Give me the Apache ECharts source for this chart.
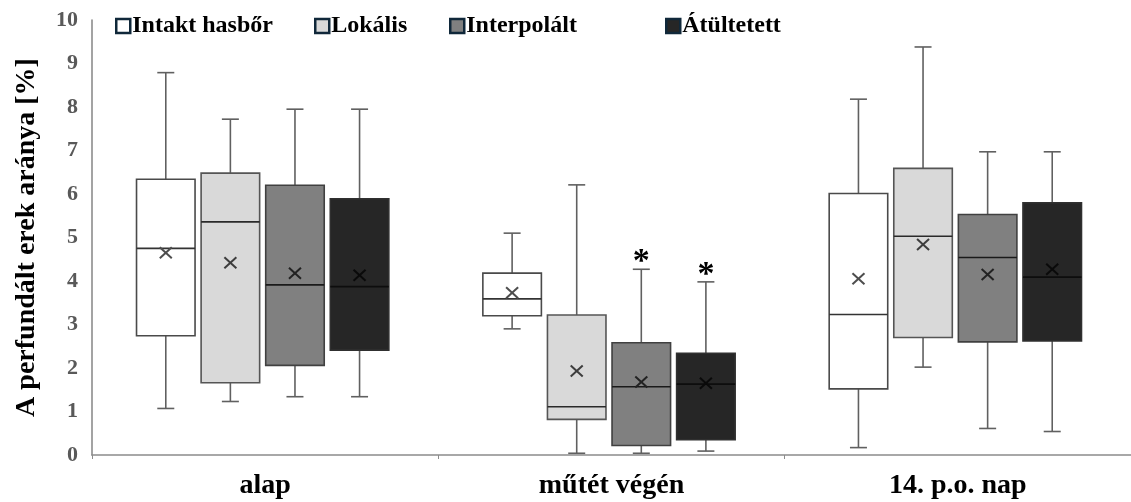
<!DOCTYPE html>
<html>
<head>
<meta charset="utf-8">
<script src="https://cdn.jsdelivr.net/npm/echarts@6/dist/echarts.min.js"></script>
<style>html,body{margin:0;padding:0;background:#fff;}#chart{width:1131px;height:502px;}</style>
</head>
<body>
<div id="chart"></div>
<script>
const categories = ['alap', 'műtét végén', '14. p.o. nap'];
const seriesNames = ['Intakt hasbőr', 'Lokális', 'Interpolált', 'Átültetett'];
// [min, Q1, median, Q3, max] per category
const intaktBox = [[1.07, 2.74, 4.75, 6.34, 8.79], [2.90, 3.20, 3.59, 4.18, 5.10], [0.17, 1.52, 3.23, 6.01, 8.18]];
const intaktMean = [4.65, 3.73, 4.05];
const lokalisBox = [[1.23, 1.66, 5.36, 6.48, 7.72], [0.04, 0.82, 1.11, 3.22, 6.21], [2.02, 2.70, 5.03, 6.59, 9.38]];
const lokalisMean = [4.42, 1.93, 4.84];
const interpBox = [[1.34, 2.06, 3.91, 6.20, 7.95], [0.04, 0.22, 1.57, 2.58, 4.27], [0.61, 2.60, 4.54, 5.53, 6.97]];
const interpMean = [4.18, 1.68, 4.15];
const atultBox = [[1.34, 2.41, 3.87, 5.89, 7.95], [0.09, 0.35, 1.63, 2.34, 3.98], [0.54, 2.62, 4.09, 5.80, 6.97]];
const atultMean = [4.13, 1.65, 4.27];
const intaktStars = ['', '', ''];
const lokalisStars = ['', '', ''];
const interpStars = ['', '*', ''];
const atultStars = ['', '*', ''];
const yMin = 0, yMax = 10, yStep = 1;

const boxes = [intaktBox, lokalisBox, interpBox, atultBox];
const means = [intaktMean, lokalisMean, interpMean, atultMean];
const stars = [intaktStars, lokalisStars, interpStars, atultStars];
const fills = ['#ffffff', '#d9d9d9', '#808080', '#262626'];
const borders = ['#4a4a4a', '#555555', '#404040', '#303030'];
const medianCol = ['#333333', '#2a2a2a', '#1a1a1a', '#0d0d0d'];
const meanCol = ['#4d4d4d', '#3d3d3d', '#222222', '#0a0a0a'];
const whiskerCol = '#606060';
const FONT = 'Liberation Serif';

function makeRender(si) {
  return function (params, api) {
    const cat = api.value(0);
    const band = api.size([1, 0])[0];
    const slot = band * 0.1865;
    const shift = -band * 0.0072;
    const bw = band * 0.169;
    const cx = api.coord([cat, 0])[0] + (si - 1.5) * slot + shift;
    const yv = [1, 2, 3, 4, 5, 6].map(d => api.coord([cat, api.value(d)])[1]);
    const [yMinP, yQ1, yMed, yQ3, yMaxP, yMean] = yv;
    const cap = 17;
    const ls = { stroke: whiskerCol, lineWidth: 1.6 };
    const children = [
      { type: 'line', shape: { x1: cx, y1: yMaxP, x2: cx, y2: yQ3 }, style: ls },
      { type: 'line', shape: { x1: cx, y1: yQ1, x2: cx, y2: yMinP }, style: ls },
      { type: 'line', shape: { x1: cx - cap / 2, y1: yMaxP, x2: cx + cap / 2, y2: yMaxP }, style: ls },
      { type: 'line', shape: { x1: cx - cap / 2, y1: yMinP, x2: cx + cap / 2, y2: yMinP }, style: ls },
      { type: 'rect', shape: { x: cx - bw / 2, y: yQ3, width: bw, height: yQ1 - yQ3 },
        style: { fill: fills[si], stroke: borders[si], lineWidth: 1.6 } },
      { type: 'line', shape: { x1: cx - bw / 2, y1: yMed, x2: cx + bw / 2, y2: yMed },
        style: { stroke: medianCol[si], lineWidth: 1.6 } },
      { type: 'line', shape: { x1: cx - 6, y1: yMean - 5.5, x2: cx + 6, y2: yMean + 5.5 },
        style: { stroke: meanCol[si], lineWidth: 2 } },
      { type: 'line', shape: { x1: cx - 6, y1: yMean + 5.5, x2: cx + 6, y2: yMean - 5.5 },
        style: { stroke: meanCol[si], lineWidth: 2 } }
    ];
    const st = stars[si][params.dataIndex];
    if (st) {
      children.push({ type: 'text', style: { text: st, x: cx, y: yMaxP + 10, align: 'center', verticalAlign: 'bottom',
        font: 'bold 34px "' + FONT + '"', fill: '#000' } });
    }
    return { type: 'group', children };
  };
}

const series = seriesNames.map((name, si) => ({
  type: 'custom',
  name,
  renderItem: makeRender(si),
  itemStyle: { color: fills[si] },
  encode: { x: 0, y: [1, 2, 3, 4, 5, 6] },
  data: categories.map((c, ci) => [ci].concat(boxes[si][ci], [means[si][ci]])),
  z: 2
}));

const legendLeft = [115, 314, 449, 665];
const legends = seriesNames.map((name, si) => ({
  left: legendLeft[si], top: 14, padding: 0, selectedMode: false,
  icon: 'rect', itemWidth: 14, itemHeight: 14,
  data: [{ name, itemStyle: { color: fills[si], borderColor: '#10283a', borderWidth: 2.5 } }],
  textStyle: { fontFamily: FONT, fontWeight: 'bold', fontSize: 24, color: '#000', padding: [0, 0, 0, -3] }
}));

const chart = echarts.init(document.getElementById('chart'), null, { renderer: 'canvas' });
chart.setOption({
  animation: false,
  backgroundColor: '#fff',
  legend: legends,
  grid: { left: 92, right: -6, top: 20, bottom: 47, containLabel: false },
  xAxis: {
    type: 'category', data: categories, boundaryGap: true,
    axisLine: { lineStyle: { color: '#8c8c8c', width: 1.6 } },
    axisTick: { show: true, length: 4, lineStyle: { color: '#8c8c8c' } },
    axisLabel: { fontFamily: FONT, fontWeight: 'bold', fontSize: 28, color: '#000', margin: 17 },
    splitLine: { show: false }
  },
  yAxis: {
    type: 'value', min: yMin, max: yMax, interval: yStep,
    name: 'A perfundált erek aránya [%]', nameLocation: 'middle', nameGap: 51,
    nameTextStyle: { fontFamily: FONT, fontWeight: 'bold', fontSize: 28, color: '#000' },
    axisLine: { show: true, lineStyle: { color: '#8c8c8c', width: 1.6 } },
    axisTick: { show: false },
    axisLabel: { fontFamily: FONT, fontWeight: 'bold', fontSize: 22, color: '#595959', margin: 14 },
    splitLine: { show: false }
  },
  series
});
</script>
</body>
</html>
